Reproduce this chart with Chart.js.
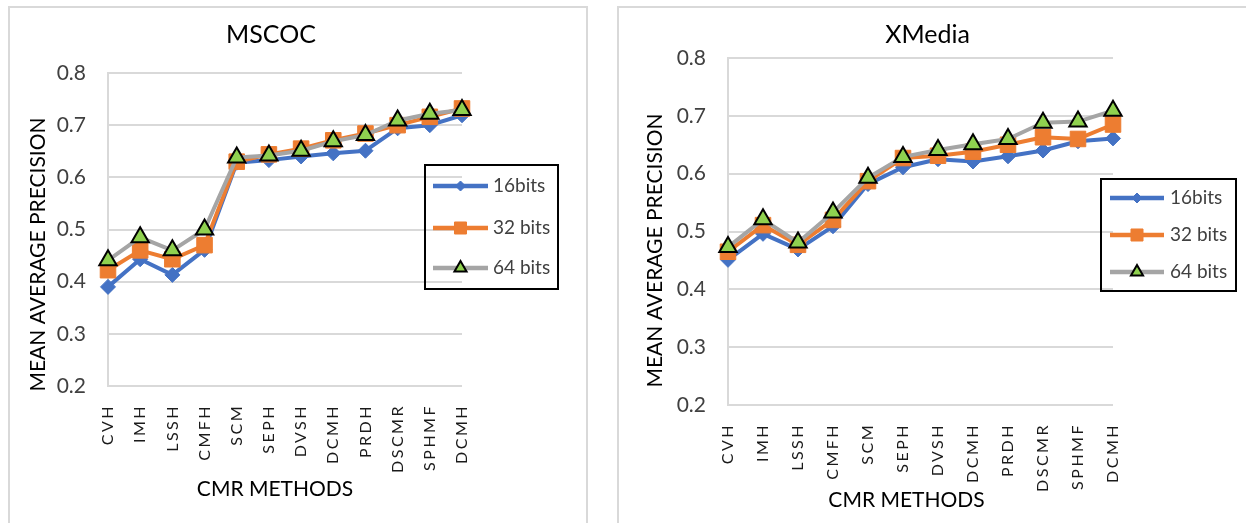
<!DOCTYPE html>
<html>
<head>
<meta charset="utf-8">
<script src="https://cdn.jsdelivr.net/npm/chart.js@4.4.1/dist/chart.umd.min.js"></script>
<style>
    html, body { margin: 0; padding: 0; background: #fff; overflow: hidden; }
    body { position: relative; width: 1246px; height: 523px; }
    .panel { position: absolute; top: 6px; height: 600px; border: 2px solid #d9d9d9; box-sizing: border-box; }
    canvas { position: absolute; top: 0; }
</style>
</head>
<body>
<div class="panel" style="left:8px; width:580px;"></div>
<div class="panel" style="left:617px; width:700px;"></div>
<canvas id="mscocChart" width="582" height="523" style="left:-20px"></canvas>
<canvas id="xmediaChart" width="665" height="523" style="left:595px"></canvas>
<script>
const methods = ["CVH", "IMH", "LSSH", "CMFH", "SCM", "SEPH", "DVSH", "DCMH", "PRDH", "DSCMR", "SPHMF", "DCMH"];
const seriesNames = ["16bits", "32 bits", "64 bits"];
const yTicks = [0.2, 0.3, 0.4, 0.5, 0.6, 0.7, 0.8];

// MSCOC
const mscoc16 = [0.390, 0.443, 0.413, 0.461, 0.628, 0.633, 0.640, 0.646, 0.651, 0.694, 0.700, 0.719];
const mscoc32 = [0.422, 0.460, 0.443, 0.470, 0.630, 0.644, 0.655, 0.671, 0.684, 0.700, 0.716, 0.732];
const mscoc64 = [0.441, 0.485, 0.460, 0.500, 0.638, 0.642, 0.651, 0.669, 0.681, 0.709, 0.722, 0.729];

// XMedia
const xmedia16 = [0.451, 0.496, 0.469, 0.509, 0.582, 0.611, 0.625, 0.621, 0.630, 0.640, 0.656, 0.661];
const xmedia32 = [0.465, 0.511, 0.477, 0.520, 0.587, 0.627, 0.631, 0.638, 0.650, 0.663, 0.660, 0.685];
const xmedia64 = [0.473, 0.521, 0.481, 0.533, 0.593, 0.629, 0.641, 0.651, 0.660, 0.688, 0.690, 0.709];

const FONT = "Lato, 'Open Sans', sans-serif";

/* ===== legend box drawn inside the plot, like excel ===== */
const boxLegend = {
    id: "boxLegend",
    afterDraw(chart, args, opts) {
        const ctx = chart.ctx;
        ctx.save();
        ctx.lineWidth = 2;
        ctx.strokeStyle = "#000";
        ctx.strokeRect(opts.left, opts.top, opts.width, opts.height);

        chart.data.datasets.forEach((ds, i) => {
            const y = opts.rows[i];
            ctx.strokeStyle = ds.borderColor;
            ctx.lineWidth = ds.borderWidth + 0.5;
            ctx.beginPath();
            ctx.moveTo(opts.lineFrom, y);
            ctx.lineTo(opts.lineTo, y);
            ctx.stroke();

            ctx.fillStyle = ds.pointBackgroundColor;
            ctx.strokeStyle = ds.pointBorderColor;
            ctx.lineWidth = ds.pointBorderWidth;
            Chart.helpers.drawPoint(ctx, {
                pointStyle: ds.pointStyle,
                radius: opts.markers[i],
                rotation: 0,
                borderWidth: ds.pointBorderWidth
            }, (opts.lineFrom + opts.lineTo) / 2, y);

            ctx.fillStyle = "#404040";
            ctx.font = "19px " + FONT;
            ctx.textBaseline = "middle";
            ctx.textAlign = "left";
            ctx.fillText(ds.label, opts.textX, y);
        });
        ctx.restore();
    }
};

/* ===== nudge axis titles + spaced-out category labels ===== */
const axisTweaks = {
    id: "axisTweaks",
    afterLayout(chart, args, opts) {
        const ctx = chart.ctx;
        ["x", "y"].forEach(id => {
            const scale = chart.scales[id];
            if (scale._tweaked) return;
            const shift = opts[id] || [0, 0];
            const drawTitle = scale.drawTitle;
            scale.drawTitle = function () {
                ctx.save();
                ctx.translate(shift[0], shift[1]);
                drawTitle.call(this);
                ctx.restore();
            };
            scale._tweaked = true;
        });
        const x = chart.scales.x;
        if (!x._spaced) {
            const drawLabels = x.drawLabels;
            x.drawLabels = function (area) {
                ctx.save();
                ctx.letterSpacing = opts.letterSpacing;
                drawLabels.call(this, area);
                ctx.restore();
            };
            x._spaced = true;
        }
    }
};

function makeDatasets(s16, s32, s64) {
    return [{
        label: seriesNames[0],
        data: s16,
        borderColor: "#4472C4",
        backgroundColor: "#4472C4",
        borderWidth: 4,
        pointStyle: "rectRot",
        pointRadius: 7.5,
        pointBackgroundColor: "#4472C4",
        pointBorderColor: "#4472C4",
        pointBorderWidth: 1,
        order: 3
    }, {
        label: seriesNames[1],
        data: s32,
        borderColor: "#ED7D31",
        backgroundColor: "#ED7D31",
        borderWidth: 4,
        pointStyle: "rect",
        pointRadius: 11,
        pointBackgroundColor: "#ED7D31",
        pointBorderColor: "#ED7D31",
        pointBorderWidth: 1,
        order: 2
    }, {
        label: seriesNames[2],
        data: s64,
        borderColor: "#A5A5A5",
        backgroundColor: "#A5A5A5",
        borderWidth: 4,
        pointStyle: "triangle",
        pointRadius: 10,
        pointBackgroundColor: "#8FD14F",
        pointBorderColor: "#000",
        pointBorderWidth: 2,
        order: 1
    }];
}

function makeChart(canvasId, title, datasets, lay) {
    return new Chart(document.getElementById(canvasId), {
        type: "line",
        data: {
            labels: methods,
            datasets: datasets
        },
        options: {
            responsive: false,
            animation: false,
            layout: { padding: 0 },
            datasets: {
                line: { tension: 0, clip: false, borderJoinStyle: "round" }
            },
            plugins: {
                legend: { display: false },
                tooltip: { enabled: false },
                title: {
                    display: true,
                    text: title,
                    color: "#000",
                    font: { family: FONT, size: 25, weight: "normal" },
                    padding: { top: 20, bottom: lay.titleGap }
                },
                boxLegend: lay.legend,
                axisTweaks: { x: lay.xShift, y: lay.yShift, letterSpacing: "2.5px" }
            },
            scales: {
                x: {
                    grid: { display: false },
                    border: { display: false },
                    ticks: {
                        autoSkip: false,
                        maxRotation: 90,
                        minRotation: 90,
                        padding: 10,
                        color: "#1a1a1a",
                        font: { family: FONT, size: 16 }
                    },
                    title: {
                        display: true,
                        text: "CMR METHODS",
                        color: "#000",
                        font: { family: FONT, size: 21 },
                        padding: { top: 0, bottom: lay.xTitlePad }
                    },
                    afterFit: s => { s.height = lay.xHeight; }
                },
                y: {
                    min: yTicks[0],
                    max: yTicks[yTicks.length - 1],
                    afterBuildTicks: s => { s.ticks = yTicks.map(v => ({ value: v })); },
                    grid: { color: "#d9d9d9", lineWidth: 2, drawTicks: false },
                    border: { color: "#d9d9d9", width: 2 },
                    ticks: {
                        padding: 22,
                        color: "#404040",
                        font: { family: FONT, size: 21 },
                        callback: v => v.toFixed(1)
                    },
                    title: {
                        display: true,
                        text: "MEAN AVERAGE PRECISION",
                        color: "#000",
                        font: { family: FONT, size: 21 },
                        padding: { top: lay.yTitlePad, bottom: 0 }
                    },
                    afterFit: s => { s.width = lay.yWidth; }
                },
                spacer: {
                    type: "linear",
                    position: "right",
                    grid: { display: false },
                    border: { display: false },
                    ticks: { display: false },
                    afterFit: s => { s.width = lay.rightWidth; }
                }
            }
        },
        plugins: [boxLegend, axisTweaks]
    });
}

/* ===== MSCOC (left) ===== */
makeChart("mscocChart", "MSCOC", makeDatasets(mscoc16, mscoc32, mscoc64), {
    titleGap: 23,
    xHeight: 137,
    xTitlePad: 21,
    yWidth: 128,
    yTitlePad: 46,
    rightWidth: 100,
    xShift: [-10, 0],
    yShift: [0, 25],
    legend: {
        left: 445, top: 165, width: 133, height: 124,
        rows: [186, 228, 268],
        lineFrom: 453, lineTo: 508,
        textX: 513,
        markers: [5, 8.5, 7]
    }
});

/* ===== XMedia (right) ===== */
makeChart("xmediaChart", "XMedia", makeDatasets(xmedia16, xmedia32, xmedia64), {
    titleGap: 8,
    xHeight: 118,
    xTitlePad: 10,
    yWidth: 133,
    yTitlePad: 48,
    rightWidth: 147,
    xShift: [-14, 0],
    yShift: [0, 19],
    legend: {
        left: 506, top: 179, width: 135, height: 112,
        rows: [198, 235, 272],
        lineFrom: 515, lineTo: 569,
        textX: 575,
        markers: [5, 8.5, 7]
    }
});
</script>
</body>
</html>
